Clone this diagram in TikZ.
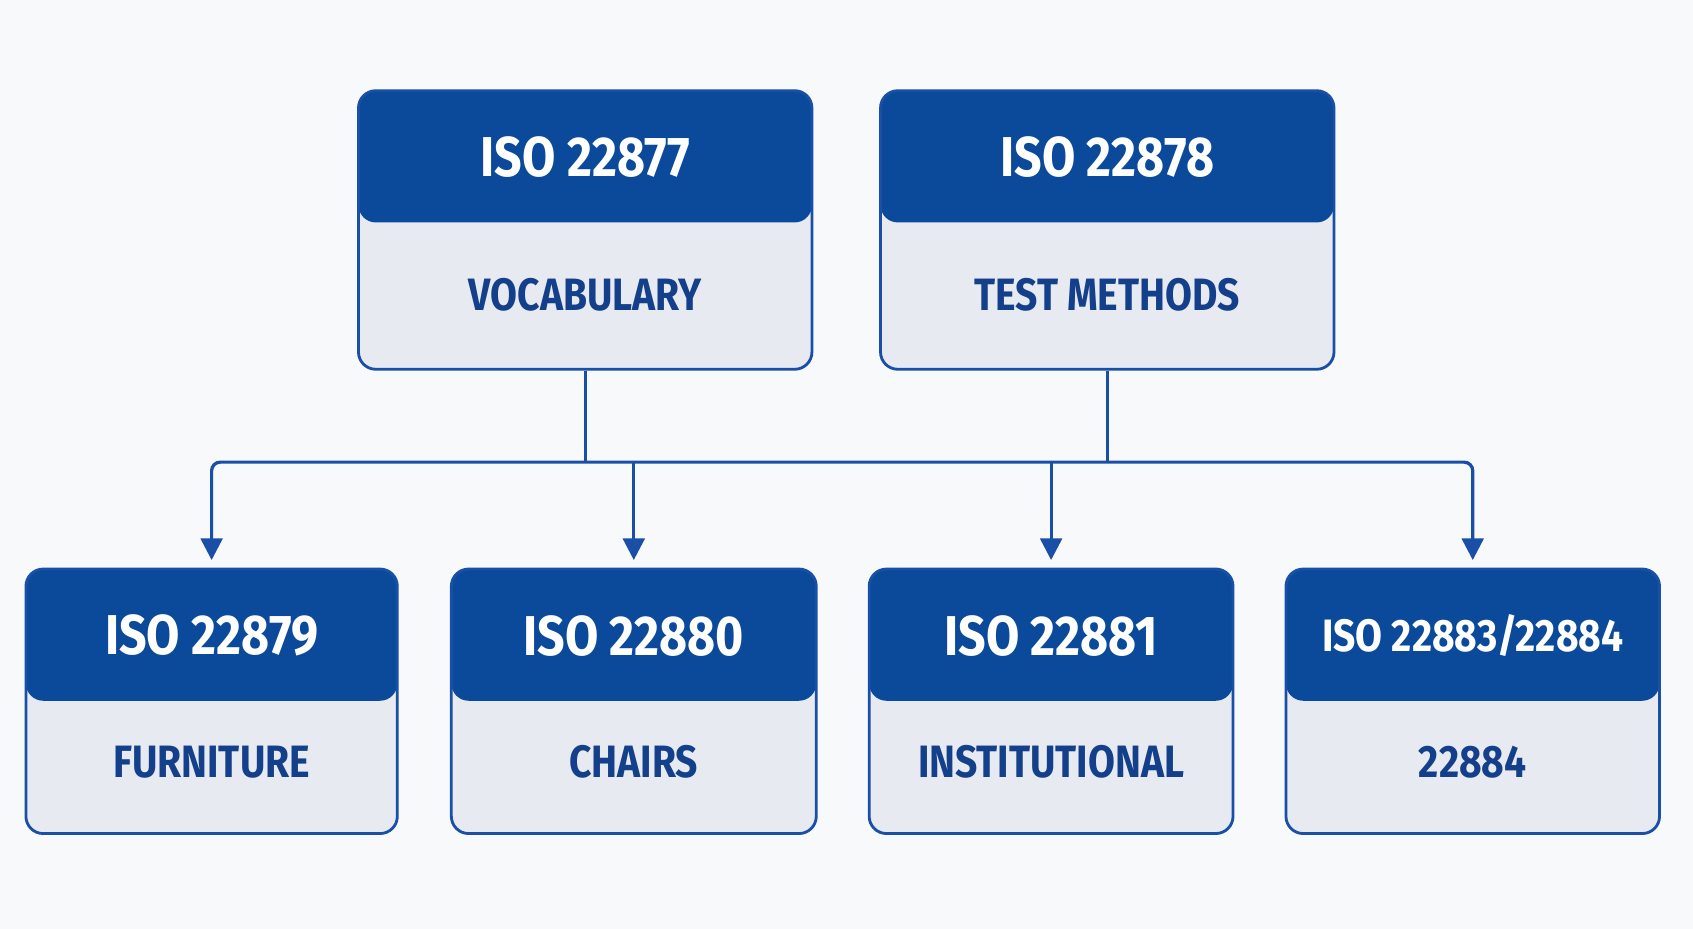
\documentclass[tikz,border=0pt]{standalone}
\usepackage{fontspec}
\setmainfont{Fira Sans}[FakeStretch=0.86]
\usetikzlibrary{positioning, arrows.meta}

\definecolor{headblue}{HTML}{0B4A9B}
\definecolor{edgeblue}{HTML}{1A4FA8}
\definecolor{bodygrey}{HTML}{E7EAF0}
\definecolor{textblue}{HTML}{143F8A}
\definecolor{bgcol}{HTML}{F8F9FB}

\tikzset{
  isobox/.style={draw=edgeblue, line width=2.6pt, fill=bodygrey, rounded corners=16pt,
    path picture={\fill[headblue] (path picture bounding box.north west) rectangle
      ([yshift=-122pt]path picture bounding box.north east);}},
  title/.style={text=white, font=\bfseries\fontsize{52}{52}\selectfont},
  label/.style={text=textblue, font=\bfseries\fontsize{42}{42}\selectfont},
  conn/.style={draw=edgeblue, line width=3pt},
  tip/.style={-{Triangle[length=20pt,width=20pt]}}
}

\begin{document}
\begin{tikzpicture}[x=1pt, y=-1pt]
    % Background
    \fill[bgcol] (0,0) rectangle (1568,860);
    \useasboundingbox (0,0) rectangle (1568,860);

    % Top boxes
    \foreach \n/\cx/\t/\l in {voc/542/ISO 22877/VOCABULARY, tst/1025.5/ISO 22878/TEST METHODS} {
      \node[isobox, minimum width=420pt, minimum height=258pt] (\n) at (\cx,213) {};
      \node[title] at ([yshift=-63pt]\n.north) {\t};
      \node[label] at ([yshift=-190pt]\n.north) {\l};
    }

    % Bottom boxes
    \foreach \n/\cx/\w/\t/\l in {fur/196/344/ISO 22879/FURNITURE, cha/587/338/ISO 22880/CHAIRS,
        ins/973.5/337/ISO 22881/INSTITUTIONAL, ind/1364/346/ISO 22883/22884/INDUSTRIAL} {
      \node[isobox, minimum width=\w pt, minimum height=245pt] (\n) at (\cx,649.5) {};
      \node[label] at ([yshift=-180pt]\n.north) {\l};
    }
    \node[title] at ([yshift=-63pt]fur.north) {ISO 22879};
    \node[title] at ([yshift=-63pt]cha.north) {ISO 22880};
    \node[title] at ([yshift=-63pt]ins.north) {ISO 22881};
    \node[title, font=\bfseries\fontsize{42}{42}\selectfont] at ([yshift=-63pt]ind.north) {ISO 22883/22884};

    % Connectors
    \coordinate (bus) at (0,428);
    \draw[conn] (voc.south) -- (bus -| voc.south);
    \draw[conn] (tst.south) -- (bus -| tst.south);
    \draw[conn, {Triangle[length=20pt,width=20pt]}-{Triangle[length=20pt,width=20pt]}, rounded corners=8pt]
      ([yshift=7pt]fur.north) -- (bus -| fur.north) -- (bus -| ind.north) -- ([yshift=7pt]ind.north);
    \draw[conn, tip] (bus -| cha.north) -- ([yshift=7pt]cha.north);
    \draw[conn, tip] (bus -| ins.north) -- ([yshift=7pt]ins.north);
\end{tikzpicture}
\end{document}
